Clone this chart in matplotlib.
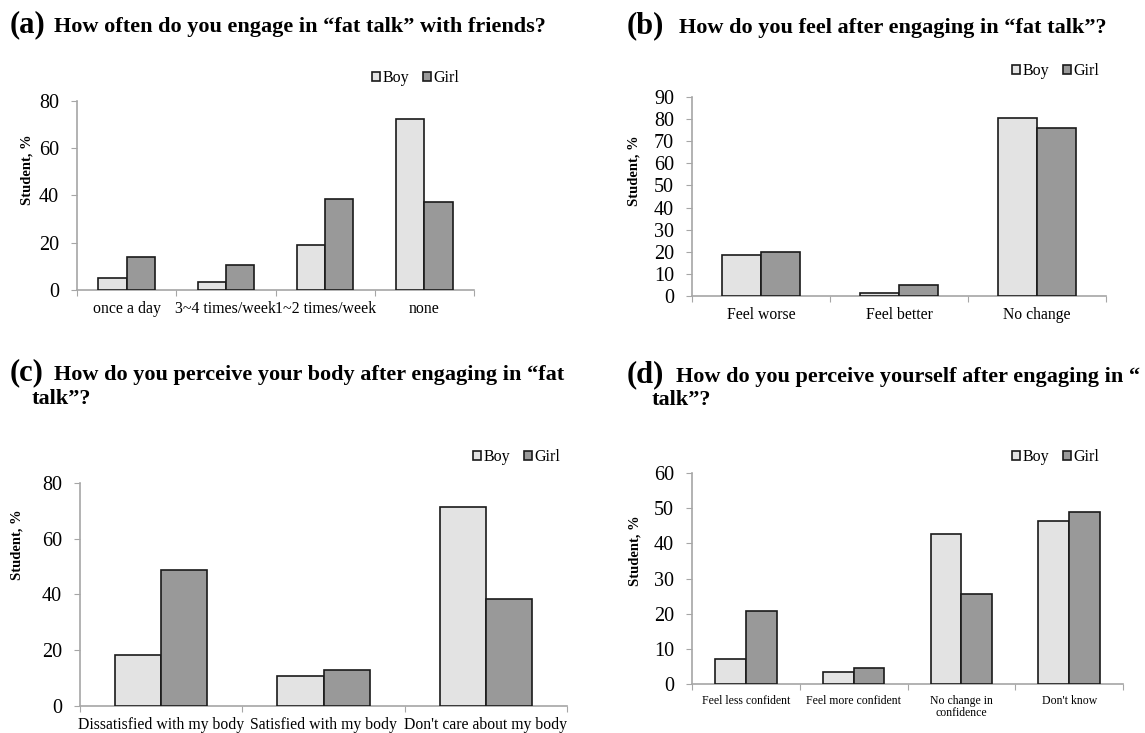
import numpy as np
import matplotlib
matplotlib.use('Agg')
import matplotlib.pyplot as plt

plt.rcParams['font.family'] = ['Liberation Serif', 'DejaVu Serif']

# Data
cats_a = ['once a day', '3~4 times/week', '1~2 times/week', 'none']
boy_a = [4.9, 3.5, 19.2, 72.3]
girl_a = [14.0, 10.5, 38.3, 37.2]

cats_b = ['Feel worse', 'Feel better', 'No change']
boy_b = [18.5, 1.2, 80.6]
girl_b = [20.0, 4.8, 75.8]

cats_c = ['Dissatisfied with my body', 'Satisfied with my body', "Don't care about my body"]
boy_c = [18.2, 10.9, 71.3]
girl_c = [48.8, 12.9, 38.5]

cats_d = ['Feel less confident', 'Feel more confident', 'No change in\nconfidence', "Don't know"]
boy_d = [7.2, 3.6, 42.7, 46.4]
girl_d = [20.9, 4.5, 25.5, 48.9]

W, H = 1145, 733
BOY = '#e3e3e3'
GIRL = '#999999'
EDGE = '#1a1a1a'
AXC = '#a6a6a6'

fig = plt.figure(figsize=(W / 100, H / 100), dpi=100)


def fx(px):
    return px / W


def fy(py):
    return 1 - py / H


def panel(rect, cats, boy, girl, ymax, ystep, catsize, leg_xy, ylab_xy):
    left, top, right, bottom = rect
    ax = fig.add_axes([fx(left), fy(bottom), fx(right - left), (bottom - top) / H])
    n = len(cats)
    x = np.arange(n)
    w = 0.285
    ax.bar(x - w / 2, boy, w, color=BOY, edgecolor=EDGE, linewidth=1.2, label='Boy', zorder=3)
    ax.bar(x + w / 2, girl, w, color=GIRL, edgecolor=EDGE, linewidth=1.2, label='Girl', zorder=3)
    ax.set_xlim(-0.5, n - 0.5)
    ax.set_ylim(0, ymax)
    ax.set_yticks(np.arange(0, ymax + 1, ystep))
    # group boundaries get the tick marks, group centres get the labels
    ax.set_xticks(np.arange(n + 1) - 0.5)
    ax.set_xticklabels([''] * (n + 1))
    ax.set_xticks(x, minor=True)
    ax.set_xticklabels(cats, minor=True, fontsize=catsize, linespacing=1.0)
    ax.tick_params(axis='x', which='minor', length=0, pad=8)
    ax.tick_params(axis='x', which='major', length=4, color=AXC, direction='out')
    ax.tick_params(axis='y', length=4, color=AXC, labelsize=14.5, pad=9)
    for s in ['top', 'right']:
        ax.spines[s].set_visible(False)
    for s in ['left', 'bottom']:
        ax.spines[s].set_color(AXC)
        ax.spines[s].set_linewidth(1.2)
    ax.legend(loc='center left', bbox_to_anchor=(fx(leg_xy[0]), fy(leg_xy[1])),
              bbox_transform=fig.transFigure, ncol=2, frameon=False, fontsize=11.5,
              handlelength=0.5, handleheight=0.5, handletextpad=0.15,
              columnspacing=0.9, borderpad=0, borderaxespad=0)
    fig.text(fx(ylab_xy[0]), fy(ylab_xy[1]), 'Student, %', rotation=90,
             ha='center', va='center', fontsize=10.5, fontweight='bold')
    return ax


panel((77, 100.5, 474, 290), cats_a, boy_a, girl_a, 80, 20, 11.4, (372, 78), (27, 170))
panel((692, 97, 1106, 296), cats_b, boy_b, girl_b, 90, 10, 11.3, (1012, 71), (634, 171))
panel((80, 482.7, 567, 706), cats_c, boy_c, girl_c, 80, 20, 11.3, (473, 457), (17, 545))
panel((692, 472.7, 1123, 684.3), cats_d, boy_d, girl_d, 60, 10, 8.5, (1012, 457), (635, 551))

# Panel titles
TS = 16
LS = 22
fig.text(fx(10), fy(32), '(a)', fontsize=LS, fontweight='bold', va='baseline')
fig.text(fx(54), fy(32), 'How often do you engage in \u201cfat talk\u201d with friends?',
         fontsize=TS, fontweight='bold', va='baseline')
fig.text(fx(627), fy(33), '(b)', fontsize=LS, fontweight='bold', va='baseline')
fig.text(fx(679), fy(33), 'How do you feel after engaging in \u201cfat talk\u201d?',
         fontsize=TS, fontweight='bold', va='baseline')
fig.text(fx(10), fy(380), '(c)', fontsize=LS, fontweight='bold', va='baseline')
fig.text(fx(54), fy(380), 'How do you perceive your body after engaging in \u201cfat',
         fontsize=TS, fontweight='bold', va='baseline')
fig.text(fx(32), fy(404), 'talk\u201d?', fontsize=TS, fontweight='bold', va='baseline')
fig.text(fx(627), fy(382), '(d)', fontsize=LS, fontweight='bold', va='baseline')
# the reference crops this line at the right edge right after the opening quote
fig.text(fx(676), fy(382), 'How do you perceive yourself after engaging in \u201c',
         fontsize=TS, fontweight='bold', va='baseline')
fig.text(fx(652), fy(405), 'talk\u201d?', fontsize=TS, fontweight='bold', va='baseline')

fig.savefig('out.png', dpi=100)
